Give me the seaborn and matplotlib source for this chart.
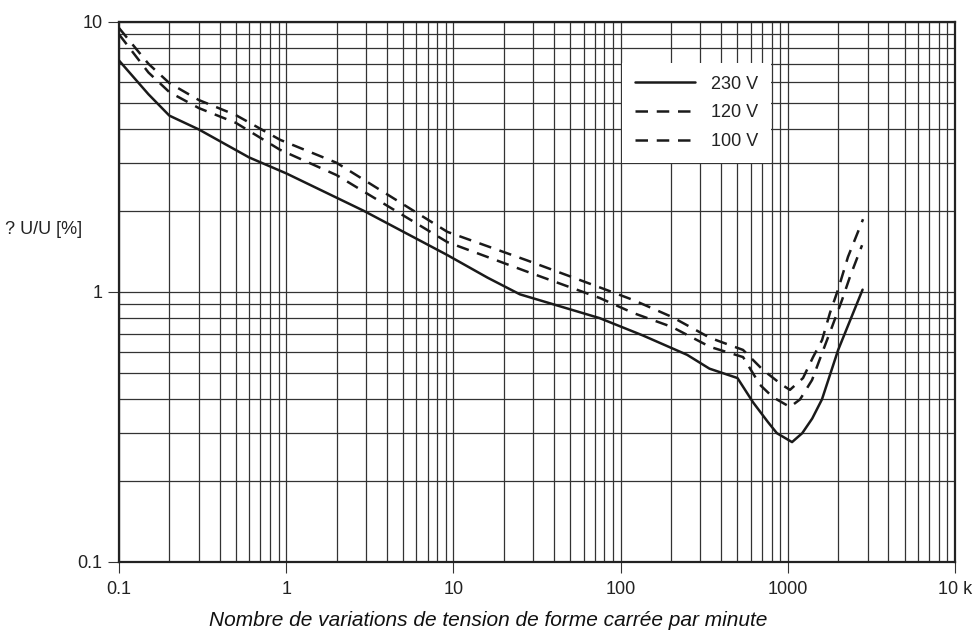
import matplotlib
matplotlib.use("Agg")
import matplotlib.pyplot as plt
import matplotlib.ticker as mticker
import seaborn as sns
import pandas as pd

# Data (log-log curves)
x_230 = [0.1, 0.15, 0.2, 0.3, 0.6, 1.0, 2.9, 9.2, 16, 25, 75, 136, 250, 340,
         500, 620, 760, 860, 1060, 1220, 1400, 1600, 2000, 2800]
y_230 = [7.2, 5.4, 4.5, 4.0, 3.15, 2.75, 2.0, 1.37, 1.13, 0.98, 0.80, 0.69,
         0.585, 0.52, 0.48, 0.39, 0.33, 0.30, 0.278, 0.30, 0.34, 0.40, 0.61,
         1.02]

x_120 = [0.1, 0.15, 0.2, 0.3, 0.5, 0.92, 2.0, 9.2, 27.5, 75, 119, 203, 343,
         540, 682, 813, 1030, 1183, 1396, 1603, 1837, 2110, 2355, 2780]
y_120 = [9.0, 6.5, 5.5, 4.8, 4.23, 3.36, 2.71, 1.53, 1.19, 0.95, 0.836, 0.742,
         0.626, 0.574, 0.453, 0.408, 0.375, 0.40, 0.472, 0.594, 0.742, 0.934,
         1.14, 1.49]

x_100 = [0.1, 0.15, 0.2, 0.3, 0.5, 0.92, 2.0, 9.2, 27.5, 75, 119, 203, 343,
         540, 711, 923, 1030, 1233, 1416, 1603, 1786, 1997, 2291, 2818]
y_100 = [9.5, 7.0, 5.94, 5.14, 4.52, 3.66, 3.01, 1.67, 1.31, 1.04, 0.934,
         0.808, 0.676, 0.61, 0.514, 0.453, 0.434, 0.48, 0.574, 0.664, 0.836,
         1.02, 1.35, 1.86]

series = ["230 V", "120 V", "100 V"]
x_ticks = [0.1, 1, 10, 100, 1000, 10000]
x_labels = ["0.1", "1", "10", "100", "1000", "10 k"]
y_ticks = [0.1, 1, 10]
y_labels = ["0.1", "1", "10"]

df = pd.concat([
    pd.DataFrame({"x": x_230, "y": y_230, "serie": "230 V"}),
    pd.DataFrame({"x": x_120, "y": y_120, "serie": "120 V"}),
    pd.DataFrame({"x": x_100, "y": y_100, "serie": "100 V"}),
])

sns.set_theme(style="white")
plt.rcParams["font.family"] = ["Liberation Sans", "DejaVu Sans"]

fig = plt.figure(figsize=(9.77, 6.4), dpi=100)
ax = fig.add_axes([0.1218, 0.1219, 0.8557, 0.84375])

sns.lineplot(data=df, x="x", y="y", hue="serie", style="serie",
             hue_order=series, style_order=series,
             palette={s: "#1a1a1a" for s in series},
             dashes={"230 V": "", "120 V": (5, 3.5), "100 V": (5, 3.5)},
             estimator=None, sort=False, linewidth=1.8, ax=ax, zorder=3)

ax.set_xscale("log")
ax.set_yscale("log")
ax.set_xlim(0.1, 10000)
ax.set_ylim(0.1, 10)

ax.set_xticks(x_ticks)
ax.set_xticklabels(x_labels)
ax.set_yticks(y_ticks)
ax.set_yticklabels(y_labels)
ax.xaxis.set_minor_locator(mticker.LogLocator(base=10, subs=range(2, 10)))
ax.yaxis.set_minor_locator(mticker.LogLocator(base=10, subs=range(2, 10)))
ax.xaxis.set_minor_formatter(mticker.NullFormatter())
ax.yaxis.set_minor_formatter(mticker.NullFormatter())

ax.tick_params(which="major", direction="out", length=8, width=0.8,
               color="#333333", labelsize=13, labelcolor="#222222",
               bottom=True, left=True, pad=4)
ax.tick_params(which="minor", length=0)
ax.tick_params(axis="x", which="major", pad=6)

ax.grid(True, which="both", color="#333333", linewidth=0.9)
ax.set_axisbelow(True)
for sp in ax.spines.values():
    sp.set_color("#222222")
    sp.set_linewidth(1.6)
    sp.set_visible(True)

ax.set_xlabel("")
ax.set_ylabel("")

leg = ax.legend(loc="upper left", bbox_to_anchor=(0.602, 0.924),
                borderaxespad=0, frameon=True, fancybox=False,
                facecolor="white", edgecolor="none", framealpha=1,
                fontsize=13, handlelength=3.3, labelspacing=0.65,
                borderpad=0.7, handletextpad=0.9)
leg.set_zorder(5)
for t in leg.get_texts():
    t.set_color("#222222")

fig.text(0.005, 1 - 230 / 640, "? U/U [%]", fontsize=13, color="#222222",
         ha="left", va="center")
fig.text(0.5, 1 - 621 / 640,
         "Nombre de variations de tension de forme carrée par minute",
         fontsize=15, style="italic", color="#111111", ha="center", va="center")

fig.savefig("out.png", dpi=100)
